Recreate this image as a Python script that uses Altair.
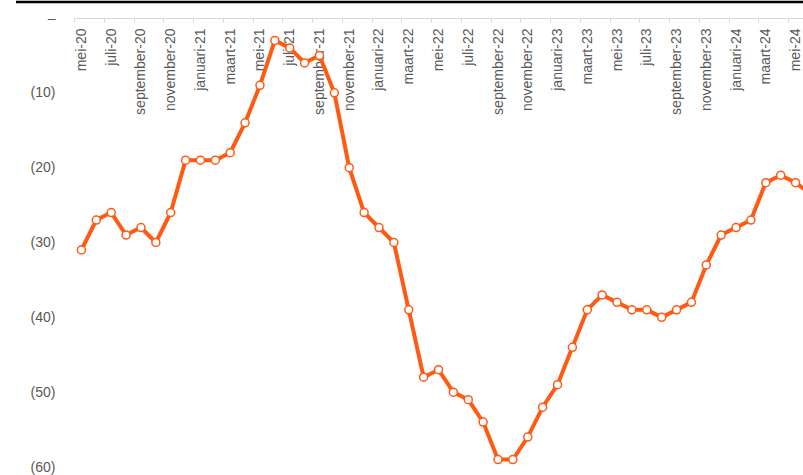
import json
import altair as alt
import pandas as pd

# ---- data ----
months = [
    "mei-20", "juni-20", "juli-20", "augustus-20", "september-20", "oktober-20",
    "november-20", "december-20", "januari-21", "februari-21", "maart-21", "april-21",
    "mei-21", "juni-21", "juli-21", "augustus-21", "september-21", "oktober-21",
    "november-21", "december-21", "januari-22", "februari-22", "maart-22", "april-22",
    "mei-22", "juni-22", "juli-22", "augustus-22", "september-22", "oktober-22",
    "november-22", "december-22", "januari-23", "februari-23", "maart-23", "april-23",
    "mei-23", "juni-23", "juli-23", "augustus-23", "september-23", "oktober-23",
    "november-23", "december-23", "januari-24", "februari-24", "maart-24", "april-24",
    "mei-24", "juni-24",
]
values = [
    -31, -27, -26, -29, -28, -30, -26, -19, -19, -19, -18, -14,
    -9, -3, -4, -6, -5, -10, -20, -26, -28, -30, -39, -48,
    -47, -50, -51, -54, -59, -59, -56, -52, -49, -44, -39, -37,
    -38, -39, -39, -40, -39, -38, -33, -29, -28, -27, -22, -21,
    -22, -23.5,
]
y_ticks = [0, -10, -20, -30, -40, -50, -60]

idx = list(range(len(months)))
df = pd.DataFrame({"i": idx, "maand": months, "waarde": values})

n_shown = 49                      # mei-20 .. mei-24 fully visible
label_idx = idx[0:n_shown:2]
tick_pos = [i - 0.5 for i in label_idx]

W, H = 729, 449
ORANGE = "#FF5A14"
GRAY_TXT = "#595959"
GRAY_LINE = "#D9D9D9"
FONT = "Liberation Sans"

xscale = alt.Scale(domain=[-0.5, n_shown - 0.5], nice=False, zero=False)
yscale = alt.Scale(domain=[-60, 0], nice=False, zero=False)

label_expr = json.dumps(months) + "[round(datum.value)]"

x_label_axis = alt.Axis(
    orient="bottom", offset=-H, values=label_idx, labelExpr=label_expr,
    labelAngle=-90, tickSize=0, ticks=False, labelPadding=10,
    domainColor=GRAY_LINE, domainWidth=1, labelColor=GRAY_TXT,
    labelFontSize=14, labelFont=FONT, grid=False, title=None,
    labelOverlap=False,
)
x_tick_axis = alt.Axis(
    orient="bottom", offset=-H, values=tick_pos, labels=False,
    tickSize=4, tickColor=GRAY_LINE, domain=False, grid=False, title=None,
)
y_axis = alt.Axis(
    values=y_ticks,
    labelExpr="datum.value == 0 ? '\u2013 ' : '(' + abs(datum.value) + ')'",
    domain=False, ticks=False, tickSize=0, grid=False, labelPadding=19,
    labelColor=GRAY_TXT, labelFontSize=14, labelFont=FONT, title=None,
)

line = alt.Chart(df).mark_line(color=ORANGE, strokeWidth=4, clip=True).encode(
    x=alt.X("i:Q", scale=xscale, axis=x_label_axis),
    y=alt.Y("waarde:Q", scale=yscale, axis=y_axis),
)

points = alt.Chart(df).mark_point(
    shape="circle", filled=True, fill="white", fillOpacity=1, opacity=1,
    stroke=ORANGE, strokeWidth=1.5, size=64, clip=True,
).encode(
    x=alt.X("i:Q", scale=xscale, axis=x_tick_axis),
    y=alt.Y("waarde:Q", scale=yscale, axis=y_axis),
)

top_rule = alt.Chart(alt.Data(values=[{}])).mark_rule(
    color="black", strokeWidth=2.5
).encode(
    x=alt.value(-58), x2=alt.value(W), y=alt.value(-16),
)

chart = (
    alt.layer(line, points, top_rule)
    .resolve_axis(x="independent")
    .properties(
        width=W, height=H,
        autosize=alt.AutoSizeParams(type="none"),
        padding={"left": 74, "top": 18, "right": 0, "bottom": 8},
        background="white",
    )
    .configure_view(stroke=None)
)

chart.save("out.html", embed_options={"renderer": "svg", "actions": False})
